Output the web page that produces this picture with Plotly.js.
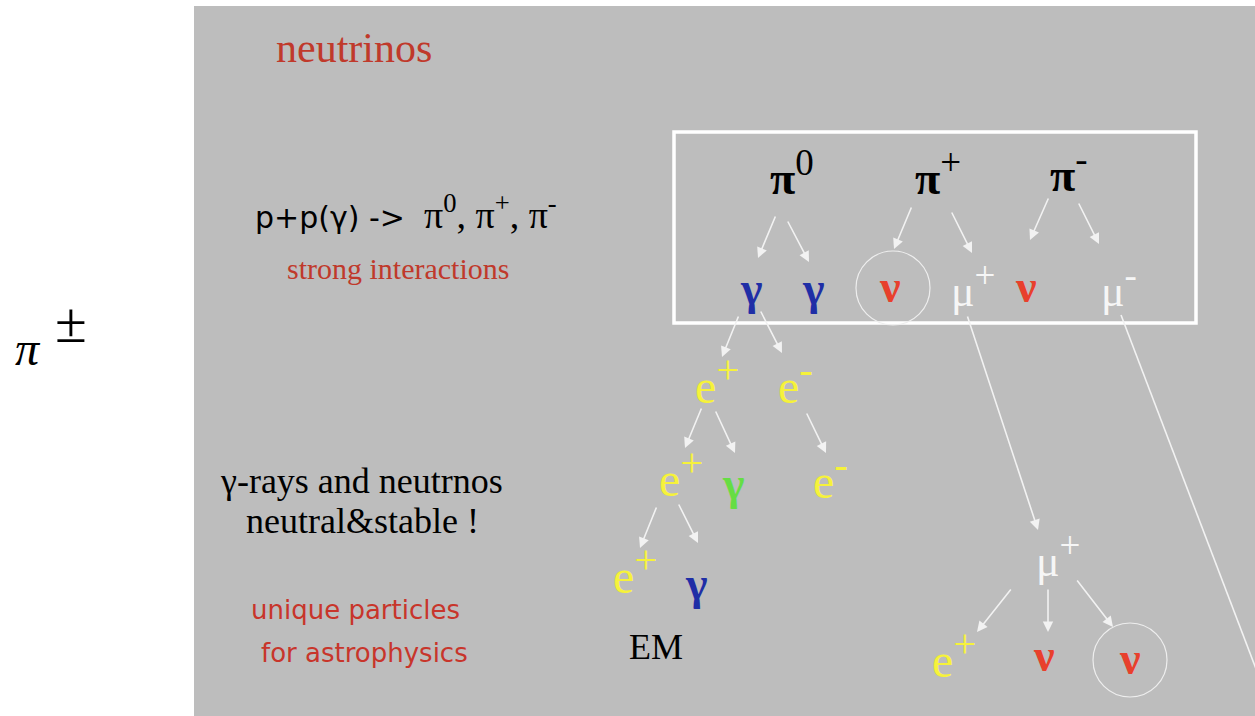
<!DOCTYPE html>
<html><head><meta charset="utf-8">
<script src="https://cdn.plot.ly/plotly-3.0.1.min.js"></script>
<style>html,body{margin:0;padding:0;background:#fff;}#chart{width:1255px;height:716px;}</style>
</head><body><div id="chart"></div>
<script>
// ---- diagram data (diagram coordinates: x right, y down) ----
const nodeLabels = ['π<sup>0</sup>','π<sup>+</sup>','π<sup>-</sup>',
  'γ','γ','ν','μ<sup>+</sup>','ν','μ<sup>-</sup>',
  'e<sup>+</sup>','e<sup>-</sup>','e<sup>+</sup>','γ','e<sup>-</sup>','e<sup>+</sup>','γ',
  'μ<sup>+</sup>','e<sup>+</sup>','ν','ν'];
const nodeKinds = ['pion','pion','pion',
  'gamma','gamma','nu','mu','nu','mu',
  'e','e','e','gammaG','e','e','gamma',
  'mu','e','nu','nu'];
const nodeX = [792,938,1069, 751,813,890,973,1026,1119, 717,795,681,733,830,635,696, 1058,954,1044,1130];
const nodeY = [173,173,170, 288,288,286,285,286,285, 379,379,472,483,474,569,583, 555,653,655,658];

// decay arrows: tail (x0,y0) -> head (x1,y1)
const arrowX0 = [776,787,912,951,1049,1078, 739,760, 702,715,806, 657,678, 967, 1012,1048,1076];
const arrowY0 = [215,220,206,211,197,202, 315,310, 407,410,412, 506,503, 315, 588,588,579];
const arrowX1 = [758,809,894,972,1030,1099, 722,782, 685,735,826, 640,698, 1038, 977,1048,1113];
const arrowY1 = [258,262,249,253,240,244, 357,353, 448,453,453, 548,543, 530, 632,632,627];

// the mu- track leaving the picture
const trackX = [1121,1274];
const trackY = [315,716];

// circled (detected) neutrinos
const ringX = [893,1130];
const ringY = [288,660];

// free text
const noteTexts = ['neutrinos',
  'p+p(γ) ->  <span style="font-family:Liberation Serif;font-size:38px">π<sup>0</sup>, π<sup>+</sup>, π<sup>-</sup></span>',
  'strong interactions',
  'γ-rays and neutrnos','neutral&stable !',
  'unique particles','for astrophysics',
  'EM'];
const noteX = [354,253,398,361,362,355,364,656];
const noteY = [48,212,268,481,521,610,653,647];

// ---- styles ----
const kindStyle = {
  pion:  {color:'#000000', size:46, weight:'bold', sup:0.8},
  gamma: {color:'#1f2ea6', size:46, weight:'bold', sup:0.8},
  gammaG:{color:'#66dd44', size:46, weight:'bold', sup:0.8},
  nu:    {color:'#e8402c', size:46, weight:'bold', sup:0.8},
  mu:    {color:'#f6f6f6', size:44, weight:'normal', sup:0.85},
  e:     {color:'#f6f23a', size:48, weight:'normal', sup:0.85}
};
const noteStyle = [
  {family:'Liberation Serif', size:42, color:'#c0392b', xanchor:'center'},
  {family:'DejaVu Sans', size:30, color:'#000000', xanchor:'left'},
  {family:'Liberation Serif', size:30, color:'#c0392b', xanchor:'center'},
  {family:'Liberation Serif', size:36, color:'#000000', xanchor:'center'},
  {family:'Liberation Serif', size:36, color:'#000000', xanchor:'center'},
  {family:'DejaVu Sans', size:26, color:'#c8352b', xanchor:'center'},
  {family:'DejaVu Sans', size:26, color:'#c8352b', xanchor:'center'},
  {family:'Liberation Serif', size:36, color:'#000000', xanchor:'center'}
];

function bigSup(t, px) {
  return t.replace(/<sup>(.*?)<\/sup>/g, (m, g) =>
    '<sup><span style="font-size:' + px + 'px;font-weight:normal">' + g + '</span></sup>');
}

const annotations = [];
nodeLabels.forEach((t,i) => {
  const s = kindStyle[nodeKinds[i]];
  annotations.push({x:nodeX[i], y:nodeY[i], xref:'x', yref:'y', text:bigSup(t, Math.round(s.size*s.sup)), showarrow:false,
    xanchor:'center', yanchor:'middle',
    font:{family:'Liberation Serif', size:s.size, color:s.color, weight:s.weight}});
});
arrowX0.forEach((v,i) => {
  annotations.push({x:arrowX1[i], y:arrowY1[i], ax:arrowX0[i], ay:arrowY0[i],
    xref:'x', yref:'y', axref:'x', ayref:'y', text:'', showarrow:true,
    arrowhead:2, arrowsize:1.3, arrowwidth:1.6, arrowcolor:'#f2f2f2', standoff:0, startstandoff:0});
});
noteTexts.forEach((t,i) => {
  const s = noteStyle[i];
  annotations.push({x:noteX[i], y:noteY[i], xref:'x', yref:'y', text:t, showarrow:false,
    xanchor:s.xanchor, yanchor:'middle', font:{family:s.family, size:s.size, color:s.color}});
});
// pi-plus-minus outside the panel
annotations.push({x:28, y:348, xref:'x', yref:'y', text:'<i>π</i>', showarrow:false,
  xanchor:'center', yanchor:'middle', font:{family:'Liberation Serif', size:48, color:'#000'}});
annotations.push({x:71, y:322, xref:'x', yref:'y', text:'±', showarrow:false,
  xanchor:'center', yanchor:'middle', font:{family:'Liberation Serif', size:58, color:'#000'}});

const shapes = [
  {type:'rect', xref:'x', yref:'y', x0:194, x1:1260, y0:6, y1:720, fillcolor:'#bdbdbd', line:{width:0}, layer:'below'},
  {type:'rect', xref:'x', yref:'y', x0:674, x1:1196, y0:132, y1:323, line:{color:'#ffffff', width:3.5}},
  {type:'line', xref:'x', yref:'y', x0:trackX[0], y0:trackY[0], x1:trackX[1], y1:trackY[1], line:{color:'#f2f2f2', width:1.6}}
];
ringX.forEach((cx,i) => {
  shapes.push({type:'circle', xref:'x', yref:'y', x0:cx-37, x1:cx+37, y0:ringY[i]-37, y1:ringY[i]+37,
    line:{color:'#eeeeee', width:1.2}});
});

const data = [{x:nodeX, y:nodeY, type:'scatter', mode:'markers', marker:{opacity:0}, hoverinfo:'skip', showlegend:false}];

const layout = {
  width:1255, height:716,
  margin:{l:0, r:0, t:0, b:0},
  paper_bgcolor:'#ffffff', plot_bgcolor:'#ffffff',
  xaxis:{range:[0,1255], visible:false, fixedrange:true},
  yaxis:{range:[716,0], visible:false, fixedrange:true},
  showlegend:false,
  annotations:annotations,
  shapes:shapes
};
Plotly.newPlot('chart', data, layout, {staticPlot:true, displayModeBar:false});
</script>
</body></html>
